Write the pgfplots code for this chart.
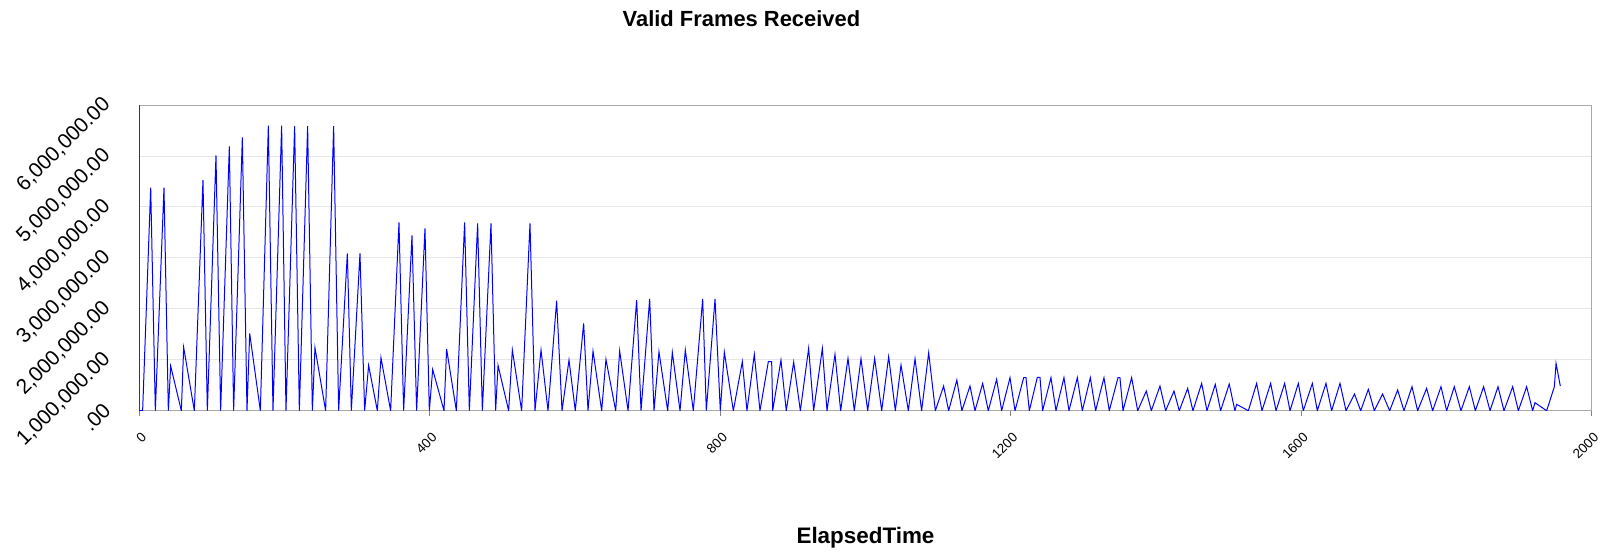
\documentclass[border=0pt]{standalone}
\usepackage{pgfplots}
\pgfplotsset{compat=1.18}
\usepackage{pgfplotstable}
\usepackage{fontspec}
\setmainfont{Liberation Sans}
\definecolor{frameblue}{RGB}{0,0,255}
\definecolor{gridgray}{RGB}{230,230,230}
\definecolor{axgray}{RGB}{170,170,170}

\pgfplotstableread{
x y
0 0
4.6 0
15.7 4380000
22.1 0
34.0 4380000
40.0 0
43.2 877000
57.9 0
61.1 1243000
75.8 0
87.7 4527000
93.7 0
105.6 5011000
112.0 0
124.0 5188000
129.9 0
141.9 5365000
148.3 0
152.0 1518000
166.7 0
177.7 5594000
184.1 0
196.0 5594000
202.0 0
213.9 5587000
220.4 0
231.8 5587000
238.3 0
241.9 1237000
256.6 0
267.6 5587000
274.5 0
286.5 3088000
292.0 0
303.9 3088000
310.3 0
315.8 890000
327.8 0
332.8 1040000
346.1 0
357.6 3696000
364.0 0
375.5 3441000
381.9 0
393.4 3579000
399.4 0
404.0 811000
419.6 0
423.2 1210000
436.6 0
448.0 3696000
454.5 0
465.9 3677000
472.4 0
484.3 3677000
490.7 0
494.0 890000
508.6 0
513.7 1191000
526.5 0
538.0 3677000
544.9 0
553.2 1191000
562.8 0
574.7 2159000
582.1 0
591.7 994000
600.4 0
611.9 1714000
617.9 0
624.8 1171000
636.7 0
642.6 1008000
656.0 0
661.5 1171000
673.0 0
684.9 2172000
690.9 0
702.8 2192000
708.8 0
715.6 1158000
727.6 0
734.0 1145000
744.6 0
751.9 1191000
762.9 0
775.8 2192000
780.8 0
792.8 2192000
800.1 0
805.6 1151000
818.0 0
830.4 962000
836.8 0
846.9 1106000
854.7 0
866.2 962000
870.8 962000
872.2 0
883.6 994000
890.9 0
901.1 955000
910.3 0
921.7 1223000
928.6 0
940.6 1223000
947.0 0
958.0 1106000
965.8 0
975.9 1027000
984.6 0
993.8 1021000
1003.0 0
1012.6 1027000
1022.3 0
1031.9 1060000
1041.1 0
1048.9 896000
1059.0 0
1068.2 1021000
1077.3 0
1087.0 1138000
1096.2 0
1107.6 484000
1114.5 0
1125.8 602000
1132.7 0
1143.9 484000
1150.8 0
1161.4 536000
1169.1 0
1180.6 615000
1187.5 0
1199.0 648000
1205.9 0
1217.8 648000
1221.0 648000
1225.6 0
1236.6 654000
1240.3 654000
1243.9 0
1255.4 648000
1262.3 0
1273.3 648000
1280.2 0
1291.7 648000
1298.6 0
1309.6 648000
1316.9 0
1328.4 648000
1335.7 0
1347.7 648000
1350.4 648000
1354.6 0
1366.5 648000
1374.8 0
1386.7 386000
1393.6 0
1405.5 484000
1413.3 0
1424.8 386000
1432.1 0
1443.6 438000
1450.9 0
1462.9 536000
1470.2 0
1481.7 517000
1489.0 0
1500.9 523000
1508.7 0
1511.1 124000
1527.2 0
1538.6 536000
1546.0 0
1557.9 536000
1565.3 0
1577.2 536000
1584.6 0
1596.0 536000
1602.9 0
1615.3 536000
1622.2 0
1634.1 536000
1641.9 0
1653.4 536000
1661.7 0
1673.4 327000
1681.9 0
1692.4 419000
1700.7 0
1712.0 327000
1721.8 0
1732.8 406000
1741.5 0
1752.6 471000
1760.3 0
1772.7 438000
1781.0 0
1792.5 471000
1800.3 0
1810.8 471000
1820.0 0
1831.5 471000
1839.8 0
1851.2 471000
1860.0 0
1871.0 471000
1879.2 0
1891.2 471000
1899.0 0
1910.4 471000
1918.7 0
1921.9 157000
1938.0 0
1948.6 471000
1950.9 929000
1956.8 484000
}\framesdata

\begin{document}
\begin{tikzpicture}
\begin{axis}[
  scale only axis,
  width=1452.4bp, height=305.7bp,
  at={(0,0)}, anchor=south west,
  xmin=0, xmax=2000,
  ymin=0, ymax=6000000,
  xtick={0,400,800,1200,1600,2000},
  xticklabels={0,400,800,1200,1600,2000},
  ytick={0,1000000,2000000,3000000,4000000,5000000,6000000},
  yticklabels={.00,{1,000,000.00},{2,000,000.00},{3,000,000.00},{4,000,000.00},{5,000,000.00},{6,000,000.00}},
  scaled y ticks=false,
  xtick pos=bottom, ytick pos=left,
  ymajorgrids,
  grid style={draw=gridgray, line width=0.9bp},
  axis line style={draw=axgray, line width=1bp},
  tick align=outside,
  major tick length=5bp,
  xtick style={draw=gray, line width=0.8bp},
  ytick style={draw=none},
  xticklabel style={font=\fontsize{13.5}{16}\selectfont, xshift=7bp, rotate=45, anchor=east},
  xticklabel shift=17bp,
  yticklabel style={font=\fontsize{21}{24}\selectfont, yshift=6bp, rotate=45, anchor=east},
  yticklabel shift=25bp,
  title={Valid Frames Received},
  title style={font=\fontsize{22}{26}\selectfont\bfseries, at={(axis description cs:0.4146,1.264)}, anchor=center},
  xlabel={ElapsedTime},
  xlabel style={font=\fontsize{22.5}{26}\selectfont\bfseries, at={(axis description cs:0.5,-0.415)}, anchor=center},
]
\addplot[color=frameblue, line width=1bp, mark=none] table[x=x, y=y] {\framesdata};
\draw[black, line width=1.6bp] (rel axis cs:0,0) -- (rel axis cs:0,1);
\end{axis}
\pgfresetboundingbox
\path (-139.3bp,-144.3bp) rectangle (1472.7bp,410.7bp);
\end{tikzpicture}
\end{document}
